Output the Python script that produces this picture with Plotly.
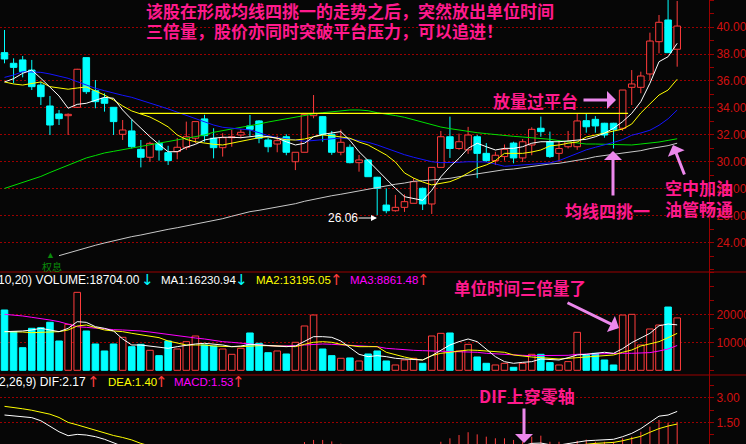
import plotly.graph_objects as go

# ---------------- daily bars (price) ----------------
opens = [38.10, 37.31, 37.56, 36.81, 35.70, 34.15, 33.56, 33.43, 34.05, 37.73,
         35.28, 34.72, 34.05, 32.05, 32.30, 30.94, 30.35, 31.38, 30.69, 30.77,
         31.09, 31.76, 33.19, 31.76, 31.06, 31.80, 32.00, 32.67, 33.04, 31.63,
         31.33, 31.87, 30.02, 30.72, 33.43, 33.36, 32.05, 30.72, 31.09, 29.95,
         30.15, 28.87, 26.81, 26.39, 26.64, 26.94, 28.05, 26.89, 29.60, 31.87,
         31.00, 30.90, 31.87, 30.64, 30.10, 30.40, 31.40, 30.30, 31.26, 32.50,
         31.50, 30.64, 31.13, 31.13, 33.06, 33.16, 32.87, 32.87, 32.50, 35.53,
         35.53, 36.52, 38.91, 40.52, 38.35]
highs = [39.78, 37.68, 37.85, 37.56, 35.95, 34.89, 33.85, 33.60, 36.90, 37.73,
         36.07, 35.09, 34.05, 33.11, 33.16, 31.63, 31.50, 31.60, 31.20, 31.78,
         32.99, 32.99, 33.50, 32.50, 32.13, 32.37, 32.42, 33.48, 33.10, 31.80,
         31.95, 32.05, 30.72, 33.53, 34.96, 33.40, 32.30, 32.40, 31.30, 30.52,
         30.20, 28.90, 28.05, 27.56, 27.60, 28.80, 28.10, 29.60, 32.30, 33.36,
         32.10, 32.60, 32.00, 31.40, 30.76, 31.30, 31.50, 31.70, 32.57, 33.36,
         32.25, 31.60, 32.30, 33.60, 33.56, 33.40, 32.90, 32.90, 35.33, 36.81,
         36.69, 39.58, 40.89, 42.20, 41.93]
lows = [37.31, 35.83, 36.27, 35.33, 34.22, 32.00, 32.74, 32.00, 34.00, 35.04,
        33.98, 33.73, 32.00, 31.63, 31.00, 29.60, 30.00, 30.10, 29.78, 30.20,
        30.90, 31.40, 31.50, 30.27, 30.40, 31.13, 31.76, 31.90, 31.39, 30.72,
        30.72, 30.50, 29.40, 30.72, 33.24, 31.50, 30.53, 30.50, 29.90, 29.28,
        28.90, 26.06, 26.20, 26.32, 26.30, 26.94, 26.44, 26.15, 29.60, 30.30,
        30.90, 30.60, 28.80, 30.00, 29.78, 30.10, 29.90, 30.00, 30.50, 31.87,
        30.30, 30.00, 31.00, 30.90, 32.17, 32.17, 31.80, 31.00, 32.30, 34.22,
        35.09, 36.07, 38.05, 38.10, 37.06]
closes = [37.63, 37.01, 36.69, 35.58, 34.84, 32.74, 33.21, 33.53, 36.87, 35.21,
          34.47, 34.35, 32.99, 32.37, 31.13, 30.35, 31.38, 30.89, 30.10, 31.09,
          31.87, 32.99, 31.95, 31.06, 31.80, 31.87, 32.20, 32.42, 31.76, 31.13,
          31.58, 30.72, 30.72, 33.53, 33.60, 32.05, 30.72, 31.46, 29.95, 30.15,
          28.91, 28.05, 26.39, 26.64, 27.06, 28.54, 26.89, 29.60, 31.87, 31.00,
          31.50, 32.00, 30.64, 30.10, 30.50, 30.94, 30.30, 31.50, 32.42, 32.25,
          30.40, 31.00, 31.50, 33.04, 32.61, 32.67, 32.00, 32.42, 35.33, 35.78,
          36.37, 38.96, 40.35, 38.10, 40.07]

# price moving averages
ma5 = [35.93, 36.17, 36.57, 36.81, 36.20, 35.58, 34.89, 33.98, 34.27, 34.35,
       34.59, 34.79, 34.72, 33.85, 33.15, 32.50, 31.87, 31.30, 30.76, 30.76,
       31.09, 31.31, 31.63, 31.76, 31.83, 31.83, 31.80, 31.87, 31.95, 31.87,
       31.76, 31.50, 31.26, 31.39, 31.87, 32.05, 32.13, 32.25, 31.60, 30.76,
       30.10, 29.41, 28.72, 28.05, 27.43, 27.28, 27.16, 27.90, 28.90, 29.65,
       30.27, 31.01, 31.39, 31.13, 30.89, 31.01, 31.01, 31.13, 31.39, 31.50,
       31.50, 31.50, 31.56, 31.63, 31.68, 31.87, 32.13, 32.50, 32.99, 33.60,
       34.47, 35.83, 37.43, 37.80, 38.79]
ma10 = [35.93, 35.78, 35.70, 35.83, 35.93, 35.58, 35.46, 35.39, 35.48, 35.56,
        35.26, 34.96, 34.59, 34.15, 33.78, 33.56, 33.33, 32.99, 32.60, 32.00,
        31.67, 31.50, 31.39, 31.31, 31.26, 31.39, 31.50, 31.68, 31.80, 31.87,
        31.78, 31.65, 31.63, 31.70, 31.87, 32.00, 31.95, 31.87, 31.76, 31.48,
        31.26, 30.89, 30.52, 30.00, 29.19, 28.81, 28.52, 28.30, 28.44, 28.54,
        28.81, 29.20, 29.56, 29.78, 30.10, 30.64, 30.64, 30.64, 30.74, 30.89,
        31.19, 31.26, 31.39, 31.48, 31.85, 32.00, 32.15, 32.30, 32.44, 32.81,
        33.63, 34.30, 34.96, 35.33, 36.13]
ma20 = [36.27, 36.44, 36.69, 36.69, 36.64, 36.52, 36.37, 36.20, 35.95, 35.68,
        35.46, 35.28, 35.09, 34.94, 34.79, 34.59, 34.39, 34.15, 33.93, 33.70,
        33.44, 33.24, 32.99, 32.74, 32.57, 32.50, 32.44, 32.37, 32.17, 31.95,
        31.80, 31.73, 31.63, 31.53, 31.60, 31.68, 31.73, 31.78, 31.70, 31.56,
        31.46, 31.26, 31.01, 30.76, 30.54, 30.35, 30.17, 30.02, 29.95, 29.95,
        29.98, 30.02, 30.02, 30.00, 29.85, 29.68, 29.73, 29.78, 29.80, 29.85,
        29.93, 30.10, 30.35, 30.62, 30.90, 31.09, 31.25, 31.45, 31.66, 31.98,
        32.15, 32.35, 32.72, 33.20, 33.85]
ma60 = [28.04, 28.26, 28.50, 28.72, 28.93, 29.22, 29.50, 29.78, 30.04, 30.30,
        30.48, 30.67, 30.79, 30.91, 31.04, 31.19, 31.31, 31.43, 31.53, 31.65,
        31.78, 31.87, 32.00, 32.20, 32.32, 32.42, 32.54, 32.67, 32.81, 32.96,
        33.09, 33.21, 33.33, 33.44, 33.56, 33.65, 33.73, 33.78, 33.85, 33.85,
        33.80, 33.65, 33.56, 33.44, 33.31, 33.13, 32.96, 32.78, 32.59, 32.47,
        32.37, 32.24, 32.17, 32.10, 32.02, 31.98, 31.90, 31.85, 31.80, 31.76,
        31.68, 31.58, 31.48, 31.39, 31.33, 31.33, 31.31, 31.28, 31.26, 31.26,
        31.33, 31.39, 31.48, 31.60, 31.72]
ma120 = [None, None, None, None, None, None, 23.06, 23.26, 23.46, 23.63,
         23.83, 24.00, 24.17, 24.35, 24.47, 24.59, 24.74, 24.91, 25.01, 25.13,
         25.26, 25.39, 25.53, 25.65, 25.80, 25.98, 26.17, 26.32, 26.42, 26.54,
         26.67, 26.76, 26.91, 27.09, 27.24, 27.36, 27.50, 27.61, 27.73, 27.88,
         28.02, 28.13, 28.24, 28.35, 28.44, 28.57, 28.61, 28.67, 28.74, 28.79,
         28.91, 29.01, 29.13, 29.24, 29.33, 29.43, 29.48, 29.58, 29.68, 29.78,
         29.85, 29.90, 30.00, 30.12, 30.24, 30.39, 30.47, 30.57, 30.67, 30.76,
         30.84, 30.99, 31.11, 31.21, 31.39]

# resistance platform drawn across the consolidation
platform_level = 33.6
platform_from, platform_to = 14.9, 68.6

# axis labels
price_ticks = [24, 26, 28, 30, 32, 34, 36, 38, 40, 42]
volume_ticks = [10000, 20000]
macd_ticks = [1.5, 3.0]

# ---------------- volume ----------------
volumes = [21540, 13800, 8080, 15000, 15230, 17150, 10470, 16420, 27850, 14040,
           9400, 6900, 9400, 11780, 8440, 9270, 7140, 5230, 10470, 7610,
           10230, 12250, 9040, 8680, 7610, 5710, 7850, 13330, 9640, 6290,
           6900, 5830, 10000, 15830, 19750, 7610, 5230, 4290, 4410, 3330,
           5830, 6900, 3330, 1900, 3690, 4290, 2500, 12250, 13200, 13330,
           6900, 9270, 4760, 2500, 1900, 2500, 1070, 2500, 5710, 5710,
           2740, 1900, 3100, 13570, 5470, 6070, 3690, 1900, 19750, 19990,
           9040, 14760, 16180, 22600, 18704]
vol_ma5 = [13800, 13800, 14040, 14400, 14990, 14400, 13800, 14990, 17370, 17130,
           15580, 14990, 14040, 11190, 9040, 9040, 8680, 8100, 7850, 8440,
           9040, 9400, 9640, 9400, 9040, 8440, 8680, 9280, 9040, 8680,
           8440, 8440, 8680, 10230, 12010, 12010, 11770, 10470, 8100, 5710,
           4870, 5230, 4870, 4290, 4040, 3920, 3680, 5230, 7250, 9040,
           10230, 11190, 10230, 7610, 4870, 3080, 2500, 2850, 3080, 4040,
           3920, 3680, 4500, 5470, 5710, 5950, 6430, 6070, 7730, 9880,
           11420, 13200, 15900, 16540, 16230.94]
vol_ma10 = [13800, 13800, 13680, 13440, 13560, 13920, 13800, 14400, 15820, 16180,
            15220, 14400, 14040, 13800, 13210, 12610, 12250, 11660, 10470, 9640,
            9040, 9040, 9040, 8680, 8440, 8440, 8440, 8680, 8800, 8800,
            8680, 8560, 8440, 9280, 10000, 10230, 10000, 9280, 8800, 8440,
            8440, 8440, 6430, 5470, 4750, 4040, 3680, 5230, 6070, 6430,
            6890, 7250, 7130, 6890, 6660, 6430, 5470, 5000, 4750, 4500,
            4270, 4040, 4270, 4500, 4750, 4870, 5110, 5470, 6430, 7250,
            8680, 9520, 10230, 11660, 13195.05]
vol_ma20 = [20000, 19760, 19400, 18930, 18570, 17970, 17370, 16420, 15580, 15340,
            14990, 14640, 14520, 14400, 14280, 14040, 13680, 13210, 12850, 12370,
            12010, 11540, 11190, 10700, 10230, 10000, 9640, 9280, 9040, 8800,
            8680, 8680, 8800, 9040, 9280, 9400, 9280, 9040, 8920, 8800,
            8560, 8440, 7850, 7610, 7250, 7130, 7010, 6890, 6890, 6890,
            6770, 6540, 6430, 6070, 5830, 5710, 5470, 5350, 5230, 5230,
            5230, 5230, 5350, 5710, 5830, 5950, 5950, 6070, 6070, 6070,
            6070, 6310, 6890, 7610, 8861.48]

# ---------------- MACD(12,26,9) ----------------
dif = [1.95, 1.91, 1.85, 1.79, 1.60, 1.24, 0.93, 0.69, 0.77, 0.73,
       0.63, 0.47, 0.23, 0.02, -0.20, -0.45, -0.60, -0.75, -0.90, -0.95,
       -0.95, -0.90, -0.85, -0.85, -0.80, -0.75, -0.70, -0.65, -0.62, -0.60,
       -0.58, -0.60, -0.58, -0.45, -0.30, -0.25, -0.30, -0.35, -0.45, -0.55,
       -0.70, -0.90, -1.10, -1.25, -1.30, -1.25, -1.25, -1.10, -0.85, -0.70,
       -0.55, -0.40, -0.35, -0.30, -0.25, -0.15, -0.10, 0.08, 0.22, 0.24,
       0.14, 0.12, 0.20, 0.32, 0.38, 0.41, 0.43, 0.47, 0.63, 0.83,
       1.12, 1.52, 1.88, 1.95, 2.17]
dea = [2.48, 2.42, 2.33, 2.24, 2.13, 2.00, 1.80, 1.50, 1.35, 1.18,
       1.02, 0.86, 0.70, 0.58, 0.43, 0.22, 0.05, -0.10, -0.25, -0.40,
       -0.50, -0.58, -0.63, -0.67, -0.70, -0.71, -0.71, -0.70, -0.69, -0.67,
       -0.66, -0.65, -0.64, -0.60, -0.55, -0.50, -0.47, -0.45, -0.45, -0.47,
       -0.52, -0.60, -0.70, -0.82, -0.92, -0.99, -1.04, -1.05, -1.01, -0.95,
       -0.87, -0.78, -0.70, -0.62, -0.55, -0.47, -0.40, -0.30, -0.18, -0.10,
       -0.04, 0.00, 0.04, 0.10, 0.18, 0.22, 0.25, 0.28, 0.38, 0.50,
       0.65, 0.90, 1.12, 1.28, 1.40]
macd = [-1.06, -1.02, -0.96, -0.90, -1.06, -1.52, -1.74, -1.62, -1.16, -0.90,
        -0.78, -0.78, -0.94, -1.12, -1.26, -1.34, -1.30, -1.30, -1.30, -1.10,
        -0.90, -0.64, -0.44, -0.36, -0.20, -0.08, 0.02, 0.10, 0.14, 0.14,
        0.16, 0.10, 0.12, 0.30, 0.43, 0.43, 0.34, 0.20, 0.00, -0.16,
        -0.36, -0.60, -0.80, -0.86, -0.76, -0.52, -0.42, -0.10, 0.32, 0.53,
        0.73, 0.90, 0.77, 0.63, 0.53, 0.53, 0.43, 0.32, 0.63, 0.69,
        0.32, 0.32, 0.25, 0.38, 0.45, 0.32, 0.32, 0.32, 0.53, 0.63,
        0.93, 1.24, 1.65, 1.48, 1.53]

# ---------------- styling ----------------
BG = "#060606"
UP = "#ff3c3c"
DOWN = "#00ffff"
AXIS = "#990000"
GRID = "#9a0000"
TICKTXT = "#d01010"
PINK = "#ff1a8c"
VIOLET = "#ec88ec"
CJK = "Noto Sans CJK SC"
LAT = "Liberation Sans, Arial"

n = len(closes)
idx = list(range(n))
rising = [c >= o for o, c in zip(opens, closes)]
body_lo = [min(o, c) for o, c in zip(opens, closes)]
body_h = [max(abs(c - o), 0.05) for o, c in zip(opens, closes)]
fills = [BG if r else DOWN for r in rising]
edges = [UP if r else DOWN for r in rising]

fig = go.Figure()


def segments(pairs):
    xs, ys = [], []
    for x, y0, y1 in pairs:
        xs += [x, x, None]
        ys += [y0, y1, None]
    return xs, ys


# candle wicks (drawn outside the body so hollow bodies stay empty)
for want, col in ((True, UP), (False, DOWN)):
    pairs = []
    for i in idx:
        if rising[i] != want:
            continue
        top = max(opens[i], closes[i])
        bot = min(opens[i], closes[i])
        if highs[i] > top:
            pairs.append((i, top, highs[i]))
        if lows[i] < bot:
            pairs.append((i, lows[i], bot))
    wx, wy = segments(pairs)
    fig.add_trace(go.Scatter(x=wx, y=wy, mode="lines", line=dict(color=col, width=1),
                             xaxis="x", yaxis="y", hoverinfo="skip"))

# candle bodies
fig.add_trace(go.Bar(x=idx, y=body_h, base=body_lo, width=0.72,
                     marker=dict(color=fills, line=dict(color=edges, width=1)),
                     xaxis="x", yaxis="y", hoverinfo="skip"))

# price moving averages
for series, col in ((ma120, "#c8c8c8"), (ma60, "#00e000"), (ma20, "#1414ff"),
                    (ma10, "#ffff00"), (ma5, "#ffffff")):
    fig.add_trace(go.Scatter(x=idx, y=series, mode="lines", line=dict(color=col, width=1),
                             xaxis="x", yaxis="y", hoverinfo="skip"))

# platform line
fig.add_trace(go.Scatter(x=[platform_from, platform_to], y=[platform_level, platform_level],
                         mode="lines", line=dict(color="#ffff00", width=1.2),
                         xaxis="x", yaxis="y", hoverinfo="skip"))

# volume bars and averages
fig.add_trace(go.Bar(x=idx, y=volumes, width=0.72,
                     marker=dict(color=fills, line=dict(color=edges, width=1)),
                     xaxis="x2", yaxis="y2", hoverinfo="skip"))
for series, col in ((vol_ma20, "#ff00ff"), (vol_ma10, "#ffff00"), (vol_ma5, "#ffffff")):
    fig.add_trace(go.Scatter(x=idx, y=series, mode="lines", line=dict(color=col, width=1),
                             xaxis="x2", yaxis="y2", hoverinfo="skip"))

# MACD histogram as thin sticks, then DIF / DEA
for positive, col in ((True, UP), (False, DOWN)):
    mx, my = segments([(i, 0, v) for i, v in zip(idx, macd) if (v > 0) == positive])
    fig.add_trace(go.Scatter(x=mx, y=my, mode="lines", line=dict(color=col, width=1),
                             xaxis="x3", yaxis="y3", hoverinfo="skip"))
fig.add_trace(go.Scatter(x=idx, y=dea, mode="lines", line=dict(color="#ffff00", width=1),
                         xaxis="x3", yaxis="y3", hoverinfo="skip"))
fig.add_trace(go.Scatter(x=idx, y=dif, mode="lines", line=dict(color="#ffffff", width=1),
                         xaxis="x3", yaxis="y3", hoverinfo="skip"))

# ---------------- layout ----------------
W, H, R = 746, 444, 37
PW = W - R
TOP_SPLIT, MID_SPLIT = 272, 375


def px(x):
    return x / PW


def py(y):
    return 1 - y / H


xr = [-0.495, 77.5]
xcommon = dict(range=xr, visible=False, fixedrange=True, domain=[0, 1])


def yaxis_style(domain, rng, tickvals, minor, fmt):
    return dict(domain=domain, range=rng, side="right", anchor="free", position=1,
                showline=True, linecolor=AXIS, linewidth=1,
                ticks="outside", ticklen=4, tickcolor=AXIS, tickwidth=1,
                tickmode="array", tickvals=tickvals, tickformat=fmt,
                tickfont=dict(color=TICKTXT, size=12, family=LAT),
                showgrid=True, gridcolor=GRID, gridwidth=1, griddash="2px,2px",
                zeroline=False, automargin=False, fixedrange=True,
                minor=dict(dtick=minor, tick0=0, ticks="outside", ticklen=4,
                           tickcolor=AXIS, showgrid=False))


fig.update_layout(
    template="none",
    width=W, height=H, margin=dict(l=0, r=R, t=0, b=0, pad=0),
    paper_bgcolor=BG, plot_bgcolor=BG, showlegend=False, barmode="overlay",
    xaxis=dict(anchor="y", **xcommon),
    xaxis2=dict(anchor="y2", **xcommon),
    xaxis3=dict(anchor="y3", **xcommon),
    yaxis=yaxis_style([py(TOP_SPLIT), 1], [21.85, 42.0], price_ticks, 1, ".2f"),
    yaxis2=yaxis_style([py(MID_SPLIT), py(TOP_SPLIT)], [-1680, 35110], volume_ticks, 5000, "d"),
    yaxis3=yaxis_style([0, py(MID_SPLIT)], [0.183, 4.39], macd_ticks, 0.75, ".2f"),
)

# panel separators
for yy in (TOP_SPLIT, MID_SPLIT):
    fig.add_shape(type="line", xref="paper", yref="paper", x0=0, x1=W / PW,
                  y0=py(yy), y1=py(yy), line=dict(color=AXIS, width=1.2))

ann = []


def text(x, y, s, color, size, family=LAT, anchor="left", bold=False):
    ann.append(dict(x=px(x), y=py(y), xref="paper", yref="paper", text=s, showarrow=False,
                    xanchor=anchor, yanchor="middle",
                    font=dict(color=color, size=size, family=family,
                              weight=700 if bold else 400)))


def arrow(tip, tail, color=VIOLET, width=3, head=1, size=1.0):
    ann.append(dict(x=px(tip[0]), y=py(tip[1]), xref="paper", yref="paper", text="",
                    showarrow=True, ax=tail[0] - tip[0], ay=tail[1] - tip[1],
                    axref="pixel", ayref="pixel", arrowcolor=color, arrowwidth=width,
                    arrowhead=head, arrowsize=size, standoff=0, startstandoff=0))


# commentary
text(144, 11, "该股在形成均线四挑一的走势之后，突然放出单位时间", PINK, 17, CJK, bold=True)
text(144, 31, "三倍量，股价亦同时突破平台压力，可以追进！", PINK, 17, CJK, bold=True)
text(491, 100, "放量过平台", PINK, 17, CJK, bold=True)
arrow((616, 100), (582, 100))
text(563, 210, "均线四挑一", PINK, 17, CJK, bold=True)
arrow((613, 151), (613, 197))
text(663, 187, "空中加油", PINK, 17, CJK, bold=True)
text(663, 209, "油管畅通", PINK, 17, CJK, bold=True)
arrow((673, 145), (685, 176))
text(452, 288, "单位时间三倍量了", PINK, 16.5, CJK, bold=True)
arrow((619, 328), (566, 302))
text(477, 395, "DIF上穿零轴", PINK, 17, CJK, bold=True)
arrow((524, 443), (524, 407))

# lowest price marker
text(326, 218, "26.06", "#ffffff", 12)
arrow((377, 218), (357, 218), color="#ffffff", width=1, head=2, size=1.2)

# ex-rights marker
text(50, 255, "▲", "#0a8a0a", 9, LAT, anchor="center")
text(52, 266, "权息", "#0a8a0a", 10, CJK, anchor="center")

# volume header
HDR = 11.5
text(142, 280, "VOL(5,10,20) VOLUME:18704.00", "#ffffff", 12, anchor="right")
text(147, 280, "↓", DOWN, 15, "DejaVu Sans", anchor="center")
text(159, 280, "MA1:16230.94", "#ffffff", HDR)
text(241, 280, "↓", DOWN, 15, "DejaVu Sans", anchor="center")
text(254, 280, "MA2:13195.05", "#ffff00", HDR)
text(336, 280, "↑", UP, 15, "DejaVu Sans", anchor="center")
text(348, 280, "MA3:8861.48", "#ff00ff", HDR)
text(424, 280, "↑", UP, 15, "DejaVu Sans", anchor="center")

# MACD header
text(88, 382, "MACD(12,26,9) DIF:2.17", "#ffffff", 12, anchor="right")
text(94, 382, "↑", UP, 15, "DejaVu Sans", anchor="center")
text(106, 382, "DEA:1.40", "#ffff00", HDR)
text(161, 382, "↑", UP, 15, "DejaVu Sans", anchor="center")
text(172, 382, "MACD:1.53", "#ff00ff", HDR)
text(239, 382, "↑", UP, 15, "DejaVu Sans", anchor="center")

fig.update_layout(annotations=ann)

fig.write_html("out.html")
